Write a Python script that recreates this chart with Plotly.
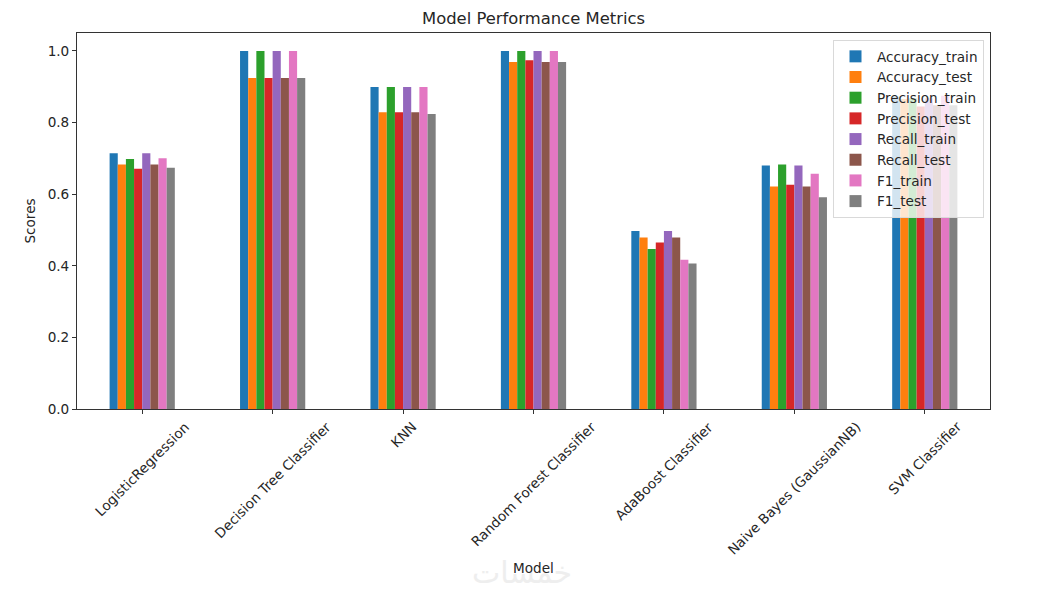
import plotly.graph_objects as go

models = ["LogisticRegression", "Decision Tree Classifier", "KNN", "Random Forest Classifier",
          "AdaBoost Classifier", "Naive Bayes (GaussianNB)", "SVM Classifier"]

accuracy_train = [0.714, 1.000, 0.899, 1.000, 0.497, 0.680, 0.872]
accuracy_test = [0.683, 0.924, 0.829, 0.969, 0.479, 0.621, 0.866]
precision_train = [0.698, 1.000, 0.899, 1.000, 0.447, 0.683, 0.868]
precision_test = [0.671, 0.924, 0.829, 0.974, 0.465, 0.626, 0.845]
recall_train = [0.714, 1.000, 0.899, 1.000, 0.497, 0.680, 0.868]
recall_test = [0.683, 0.924, 0.829, 0.969, 0.479, 0.621, 0.848]
f1_train = [0.700, 1.000, 0.899, 1.000, 0.417, 0.657, 0.875]
f1_test = [0.674, 0.924, 0.824, 0.969, 0.406, 0.591, 0.848]

series_names = ["Accuracy_train", "Accuracy_test", "Precision_train", "Precision_test",
                "Recall_train", "Recall_test", "F1_train", "F1_test"]
series_values = [accuracy_train, accuracy_test, precision_train, precision_test,
                 recall_train, recall_test, f1_train, f1_test]
colors = ["#1f77b4", "#ff7f0e", "#2ca02c", "#d62728", "#9467bd", "#8c564b", "#e377c2", "#7f7f7f"]

y_ticks = [0.0, 0.2, 0.4, 0.6, 0.8, 1.0]

FONT = "DejaVu Sans"
FS = 13.6
TXT = "#262626"

W, H = 1030, 584
L, T, PW, PH = 69, 25, 913, 376

fig = go.Figure()
for name, vals, col in zip(series_names, series_values, colors):
    fig.add_trace(go.Bar(x=models, y=vals, name=name, marker=dict(color=col, line=dict(width=0))))

fig.update_layout(
    width=W, height=H,
    paper_bgcolor="white", plot_bgcolor="white",
    margin=dict(l=L, r=W - L - PW, t=T, b=H - T - PH),
    barmode="group", bargap=0.5, bargroupgap=0,
    font=dict(family=FONT, size=FS, color=TXT),
    title=dict(text="Model Performance Metrics", x=0.5, xref="paper", xanchor="center",
               y=1 - 10 / H, yref="container", yanchor="middle",
               font=dict(family=FONT, size=16.4, color=TXT)),
    legend=dict(x=(833 - 77) / 913, y=(409 - 40) / 376, xanchor="left", yanchor="top",
                bgcolor="rgba(255,255,255,0.8)", bordercolor="#d9d9d9", borderwidth=1,
                font=dict(family=FONT, size=FS, color=TXT),
                itemwidth=33),
    showlegend=True,
)

fig.update_xaxes(
    showline=True, linecolor="#333333", linewidth=1, mirror=True,
    ticks="outside", ticklen=4, tickcolor="#333333", showticklabels=False,
    showgrid=False, zeroline=False, range=[-0.5, 6.5],
)
fig.update_yaxes(
    showline=True, linecolor="#333333", linewidth=1, mirror=True,
    ticks="outside", ticklen=4, tickcolor="#333333",
    tickvals=y_ticks, tickformat=".1f",
    tickfont=dict(family=FONT, size=FS, color=TXT),
    showgrid=False, zeroline=False, range=[0, 1.05],
    title=dict(text="Scores", font=dict(family=FONT, size=FS, color=TXT), standoff=8),
)

# rotated category labels, centred on their ticks (like matplotlib rot=45)
for m in models:
    fig.add_annotation(text=m, x=m, xref="x", y=0, yref="paper", textangle=-45,
                       xanchor="center", yanchor="top", yshift=-7, showarrow=False,
                       font=dict(family=FONT, size=FS, color=TXT))

fig.add_annotation(text="خمسات", xref="paper", yref="paper", x=(522 - 77) / 913, y=(409 - 572) / 376,
                   xanchor="center", yanchor="middle", showarrow=False,
                   font=dict(family=FONT, size=30, color="#eeeeee"))
fig.add_annotation(text="Model", xref="paper", yref="paper", x=0.5, y=(409 - 568) / 376,
                   xanchor="center", yanchor="middle", showarrow=False,
                   font=dict(family=FONT, size=FS, color=TXT))

fig.write_html("out.html")
